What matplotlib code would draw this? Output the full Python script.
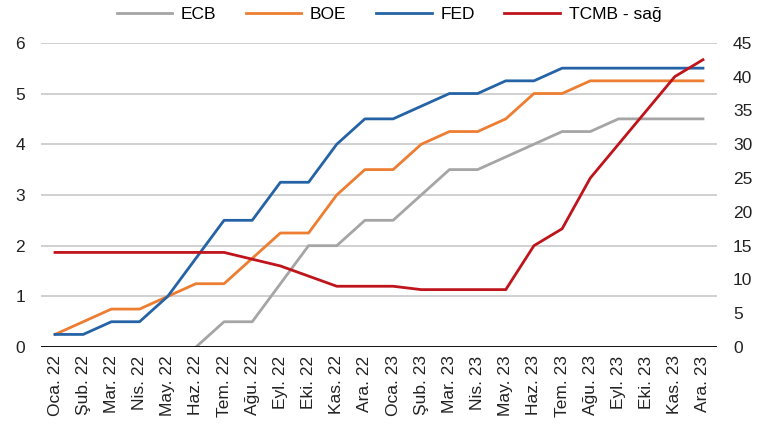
import numpy as np
import matplotlib
matplotlib.use('Agg')
import matplotlib.pyplot as plt

plt.rcParams['font.family'] = ['Liberation Sans', 'DejaVu Sans']

months = ['Oca. 22', 'Şub. 22', 'Mar. 22', 'Nis. 22', 'May. 22', 'Haz. 22',
          'Tem. 22', 'Ağu. 22', 'Eyl. 22', 'Eki. 22', 'Kas. 22', 'Ara. 22',
          'Oca. 23', 'Şub. 23', 'Mar. 23', 'Nis. 23', 'May. 23', 'Haz. 23',
          'Tem. 23', 'Ağu. 23', 'Eyl. 23', 'Eki. 23', 'Kas. 23', 'Ara. 23']

ecb = [0, 0, 0, 0, 0, 0, 0.5, 0.5, 1.25, 2.0, 2.0, 2.5,
       2.5, 3.0, 3.5, 3.5, 3.75, 4.0, 4.25, 4.25, 4.5, 4.5, 4.5, 4.5]
boe = [0.25, 0.5, 0.75, 0.75, 1.0, 1.25, 1.25, 1.75, 2.25, 2.25, 3.0, 3.5,
       3.5, 4.0, 4.25, 4.25, 4.5, 5.0, 5.0, 5.25, 5.25, 5.25, 5.25, 5.25]
fed = [0.25, 0.25, 0.5, 0.5, 1.0, 1.75, 2.5, 2.5, 3.25, 3.25, 4.0, 4.5,
       4.5, 4.75, 5.0, 5.0, 5.25, 5.25, 5.5, 5.5, 5.5, 5.5, 5.5, 5.5]
tcmb = [14, 14, 14, 14, 14, 14, 14, 13, 12, 10.5, 9, 9,
        9, 8.5, 8.5, 8.5, 8.5, 15, 17.5, 25, 30, 35, 40, 42.5]

# ECB line is hidden under the axis until it starts rising
ecb_start = 5

c_ecb = '#A5A5A5'
c_boe = '#ED7D31'
c_fed = '#2563A6'
c_tcmb = '#C0141C'

fig = plt.figure(figsize=(7.58, 4.28), dpi=100)
ax = fig.add_axes([0.054, 0.189, 0.892, 0.711])
ax2 = ax.twinx()

x = np.arange(len(months))
lw = 2.0
ax.plot(x[ecb_start:], ecb[ecb_start:], color=c_ecb, lw=lw, label='ECB', zorder=3)
ax.plot(x, boe, color=c_boe, lw=lw, label='BOE', zorder=3)
ax.plot(x, fed, color=c_fed, lw=lw, label='FED', zorder=3)
ax2.plot(x, tcmb, color=c_tcmb, lw=lw, label='TCMB - sağ', zorder=3)

ax.set_xlim(-0.5, len(months) - 0.5)
ax.set_ylim(0, 6)
ax2.set_ylim(0, 45)
ax.set_yticks(range(0, 7))
ax2.set_yticks(range(0, 50, 5))
ax.set_xticks(x)
ax.set_xticklabels(months, rotation=90, fontsize=12.5)

ax.grid(axis='y', color='#C8C8C8', lw=1.2)
ax.set_axisbelow(True)
for a in (ax, ax2):
    for s in ('top', 'left', 'right', 'bottom'):
        a.spines[s].set_visible(False)
    a.tick_params(length=0, labelsize=12.5, colors='#222222')
ax.axhline(0, color='black', lw=2, zorder=4)
ax.tick_params(axis='x', pad=6)
ax.tick_params(axis='y', pad=11.5)
ax2.tick_params(axis='y', pad=11.5)

h1, l1 = ax.get_legend_handles_labels()
h2, l2 = ax2.get_legend_handles_labels()
fig.legend(h1 + h2, l1 + l2, loc='center', bbox_to_anchor=(0.513, 0.967),
           ncol=4, frameon=False, fontsize=12.5, handlelength=3.2,
           columnspacing=1.7, handletextpad=0.5)

fig.savefig('out.png', dpi=100)
